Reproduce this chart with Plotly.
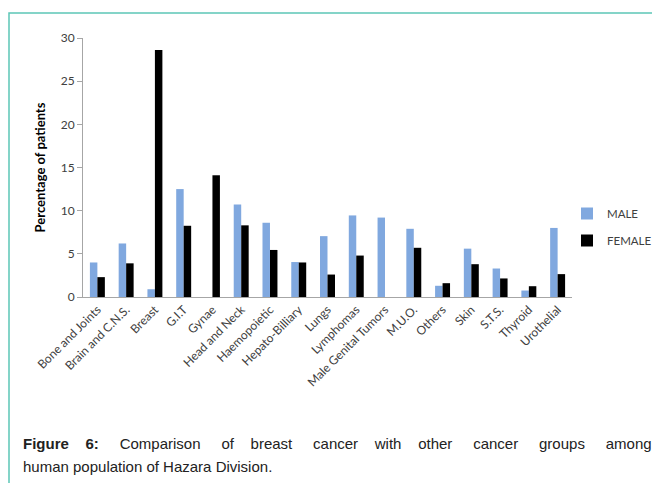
import plotly.graph_objects as go

categories = ["Bone and Joints", "Brain and C.N.S.", "Breast", "G.I.T", "Gynae",
              "Head and Neck", "Haemopoietic", "Hepato-Billiary", "Lungs", "Lymphomas",
              "Male Genital Tumors", "M.U.O.", "Others", "Skin", "S.T.S.", "Thyroid", "Urothelial"]
male = [4.0, 6.2, 0.9, 12.5, 0, 10.7, 8.6, 4.05, 7.05, 9.45, 9.2, 7.9, 1.3, 5.6, 3.3, 0.75, 8.0]
female = [2.3, 3.9, 28.6, 8.25, 14.1, 8.3, 5.45, 4.0, 2.6, 4.8, 0, 5.7, 1.6, 3.8, 2.15, 1.25, 2.65]
y_ticks = [0, 5, 10, 15, 20, 25, 30]

OFF = 8  # page body margin
W, H = 660 - 2 * OFF, 483 - OFF
L, R, T, B = 83 - OFF, 572 - OFF, 38 - OFF, 297 - OFF
pw, ph = R - L, B - T

def px(x):  # page x -> paper
    return (x - OFF - L) / pw

def py(y):  # page y -> paper
    return (B - (y - OFF)) / ph

FONT = "Lato, Carlito, Liberation Sans, sans-serif"

fig = go.Figure()
fig.add_trace(go.Bar(name="MALE", x=categories, y=male, marker_color="#80a8df",
                     marker_line_width=0, legendgroup="m"))
fig.add_trace(go.Bar(name="FEMALE", x=categories, y=female, marker_color="#000000",
                     marker_line_width=0, legendgroup="f"))

fig.update_layout(
    width=W, height=H,
    margin=dict(l=L, r=W - R, t=T, b=H - B, autoexpand=False),
    paper_bgcolor="white", plot_bgcolor="white",
    barmode="group", bargap=0.48, bargroupgap=0,
    font=dict(family=FONT, color="#404040", size=12),
    showlegend=True,
    legend=dict(x=px(567), y=py(227), xanchor="left", yanchor="middle",
                font=dict(size=11.5, color="#404040"), tracegroupgap=8,
                bgcolor="rgba(0,0,0,0)"),
    xaxis=dict(showline=True, linecolor="#a6a6a6", linewidth=1, ticks="",
               tickangle=-45, tickfont=dict(size=12, color="#404040"),
               showgrid=False, zeroline=False),
    yaxis=dict(range=[0, 30], tickvals=y_ticks, showline=True, linecolor="#a6a6a6",
               linewidth=1, ticks="outside", ticklen=5, tickcolor="#a6a6a6",
               showgrid=False, zeroline=False, tickfont=dict(size=12, color="#404040"),
               title=dict(text="<b>Percentage of patients</b>", font=dict(size=13, color="#000000"),
                          standoff=12)),
)

# teal frame
fig.add_shape(type="rect", xref="paper", yref="paper",
              x0=px(9), x1=px(700), y0=py(520), y1=py(13),
              line=dict(color="#5cc6b6", width=1.5), fillcolor="rgba(0,0,0,0)", layer="below")

cap_font = "Liberation Sans, Arial, sans-serif"
words = ["<b>Figure", "6:</b>", "Comparison", "of", "breast", "cancer", "with", "other",
         "cancer", "groups", "among"]
pads = [3, 4, 4, 3, 4, 3, 3, 4, 4, 4]
line1 = words[0]
for w, p in zip(words[1:], pads):
    line1 += " " + "\u00a0" * p + w
fig.add_annotation(xref="paper", yref="paper", x=px(21), y=py(443), xanchor="left", yanchor="middle",
                   showarrow=False, align="left", text=line1,
                   font=dict(family=cap_font, size=15, color="#222222"))
fig.add_annotation(xref="paper", yref="paper", x=px(21), y=py(466), xanchor="left", yanchor="middle",
                   showarrow=False, align="left",
                   text="human population of Hazara Division.",
                   font=dict(family=cap_font, size=15, color="#222222"))

fig.write_html("out.html")
